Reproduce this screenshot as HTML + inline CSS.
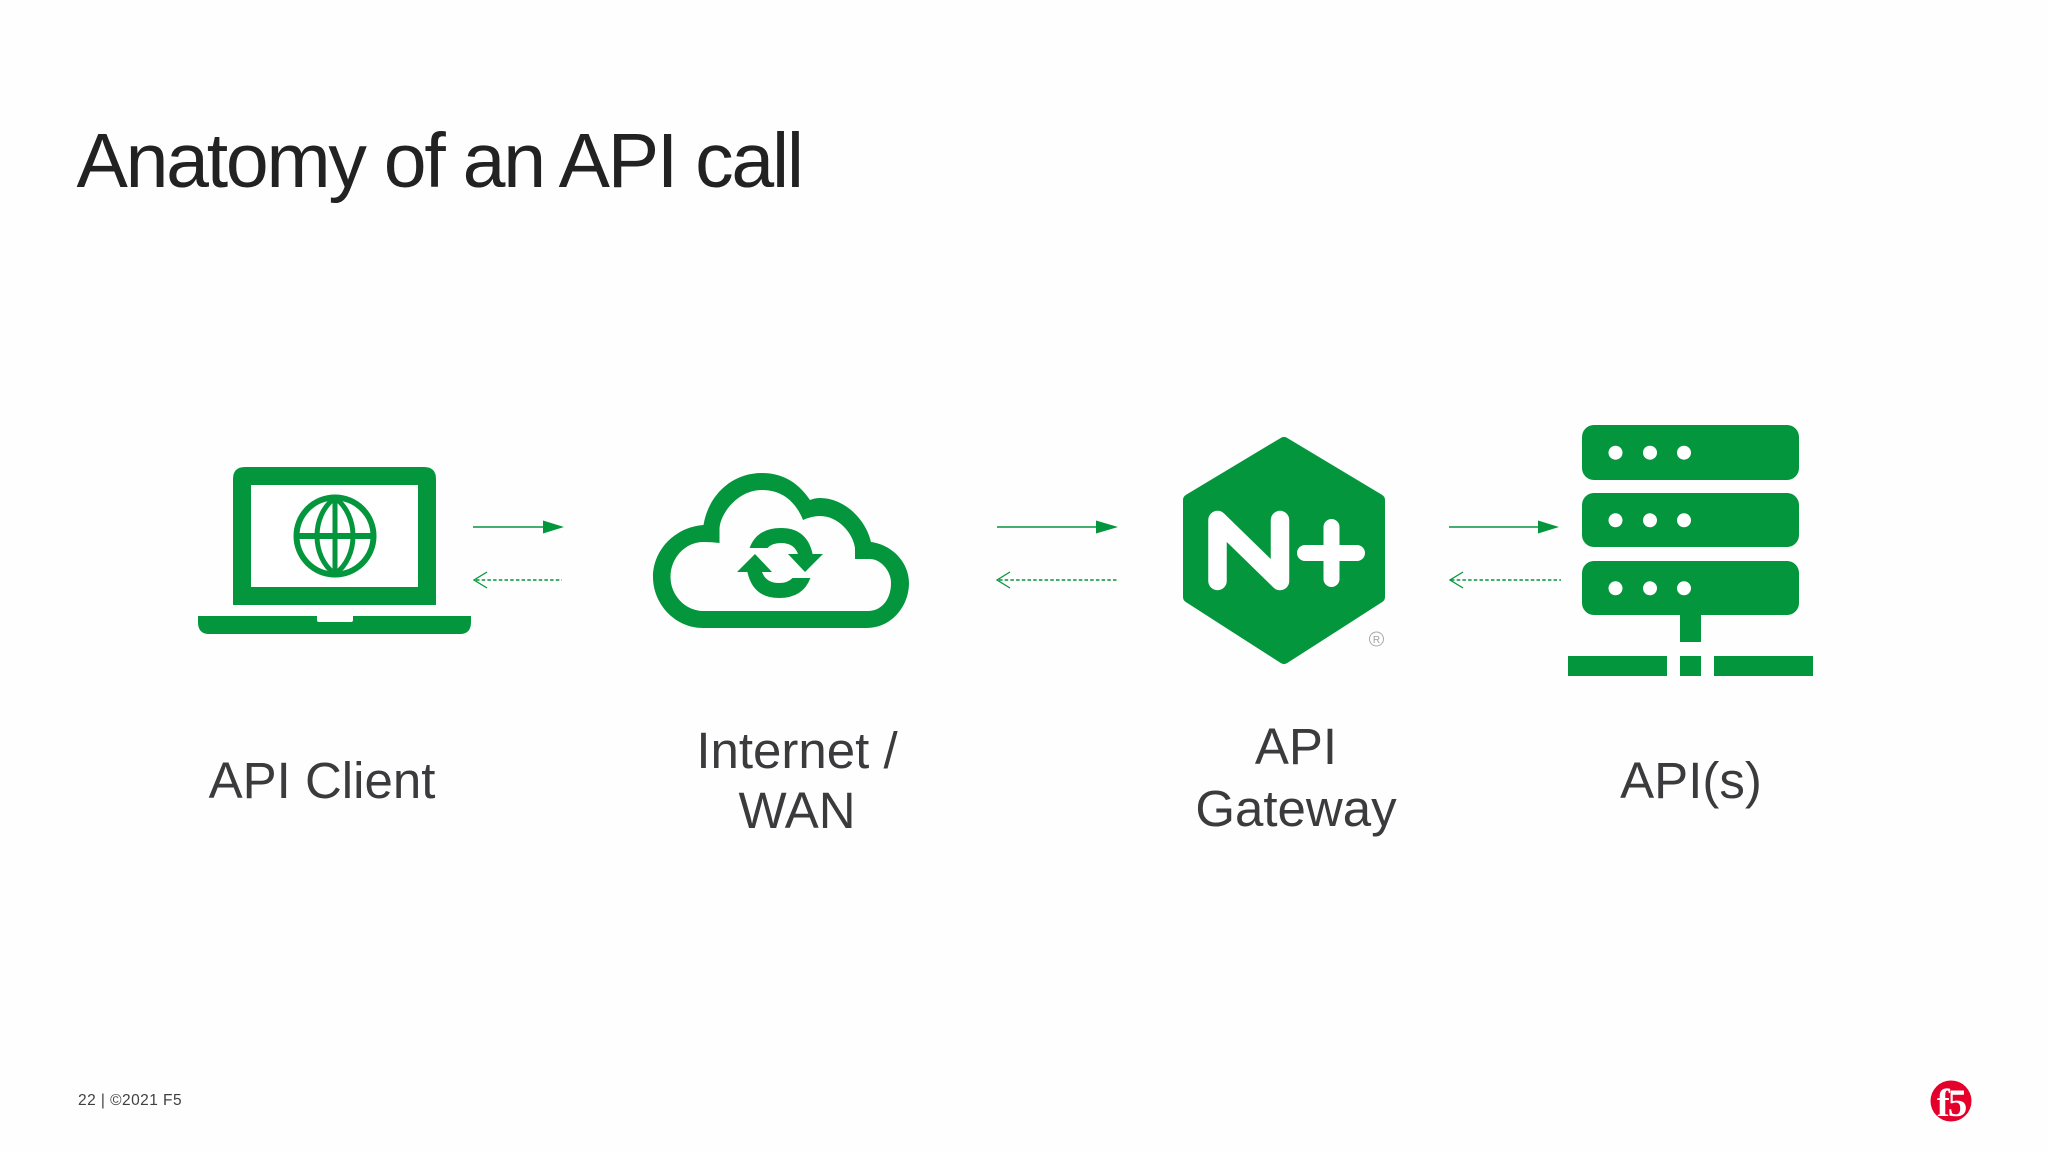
<!DOCTYPE html>
<html>
<head>
<meta charset="utf-8">
<style>
html,body{margin:0;padding:0;background:#fff;width:2048px;height:1152px;overflow:hidden}
svg{display:block}
text{font-family:"Liberation Sans",Arial,sans-serif}
.l{font-size:51px;fill:#3b3b3d;text-anchor:middle}
</style>
</head>
<body>
<svg width="2048" height="1152" viewBox="0 0 2048 1152" xmlns="http://www.w3.org/2000/svg">
<rect width="2048" height="1152" fill="#fefefe"/>
<text x="76.5" y="187" font-size="77" fill="#222222" letter-spacing="-2.25">Anatomy of an API call</text>

<!-- laptop -->
<path d="M233,605 V479 Q233,467 245,467 H424 Q436,467 436,479 V605 Z" fill="#03963c"/>
<rect x="251" y="485" width="167" height="102" fill="#fff"/>
<path d="M198,616 H471 V622 Q471,634 460,634 H209 Q198,634 198,622 Z" fill="#03963c"/>
<path d="M317,616 H353 V620 Q353,622 351,622 H319 Q317,622 317,620 Z" fill="#fff"/>
<g fill="none" stroke="#03963c">
<circle cx="335" cy="536" r="38.5" stroke-width="6"/>
<path d="M335,498 C311,515 311,557 335,574 C359,557 359,515 335,498 Z" stroke-width="5"/>
<line x1="335" y1="498" x2="335" y2="574" stroke-width="5"/>
<line x1="296" y1="536" x2="374" y2="536" stroke-width="6"/>
</g>

<!-- cloud -->
<path fill="#03963c" fill-rule="evenodd" d="M703,628 H866 C892,628 909,606 909,583 C909,563 893,545 871,542 C866,520 845,498 820,498 Q815,498 810,500 C800,485 785,473 762,473 C730,473 708,497 703.5,525 C675,527 653,550 653,577 C653,604 675,628 703,628 Z
M703.5,611 H868 C881,611 891,600 891,583 C891,570 880,559 870,559 H855 V548 C853,533 838,516 820,516 Q812,516 803,520 C797,505 785,490 762,490 C737,490 719,515 719.5,530 V543 Q712,542 703.5,542 C685,542 670.5,558 670.5,577 C670.5,595 685,611 703.5,611 Z"/>
<g fill="#03963c">
<g>
<path d="M749.6,548 Q757,528 781,528 Q807,528 812.6,554 H798 Q794,543 781,543 Q772,543 767.5,548 Z"/>
<polygon points="788,554 823,554 805,572"/>
</g>
<g transform="rotate(180 780 563)">
<path d="M749.6,548 Q757,528 781,528 Q807,528 812.6,554 H798 Q794,543 781,543 Q772,543 767.5,548 Z"/>
<polygon points="788,554 823,554 805,572"/>
</g>
</g>

<!-- hexagon -->
<polygon points="1284,443 1379,500 1379,597 1284,658 1189,597 1189,500" fill="#03963c" stroke="#03963c" stroke-width="12" stroke-linejoin="round"/>
<path d="M1217.5,581 V520 L1280,581 V520" fill="none" stroke="#fff" stroke-width="18.5" stroke-linecap="round" stroke-linejoin="round"/>
<path d="M1305,553 H1357 M1331.5,527 V579" fill="none" stroke="#fff" stroke-width="16" stroke-linecap="round"/>
<circle cx="1376.5" cy="639" r="7" fill="none" stroke="#a8a8a8" stroke-width="1"/>
<text x="1376.5" y="643" font-size="10" fill="#a0a0a0" text-anchor="middle">R</text>

<!-- server -->
<g fill="#03963c">
<rect x="1582" y="425" width="217" height="55" rx="12"/>
<rect x="1582" y="493" width="217" height="54" rx="12"/>
<rect x="1582" y="561" width="217" height="54" rx="12"/>
<rect x="1680" y="615" width="21" height="27"/>
<rect x="1568" y="656" width="99" height="20"/>
<rect x="1680" y="656" width="21" height="20"/>
<rect x="1714" y="656" width="99" height="20"/>
</g>
<g fill="#fff">
<circle cx="1615.5" cy="452.7" r="7"/><circle cx="1650" cy="452.7" r="7"/><circle cx="1684" cy="452.7" r="7"/>
<circle cx="1615.5" cy="520.3" r="7"/><circle cx="1650" cy="520.3" r="7"/><circle cx="1684" cy="520.3" r="7"/>
<circle cx="1615.5" cy="588.3" r="7"/><circle cx="1650" cy="588.3" r="7"/><circle cx="1684" cy="588.3" r="7"/>
</g>

<!-- arrows -->
<g stroke="#03963c" stroke-width="1.6" fill="none">
<line x1="473" y1="527" x2="545" y2="527"/>
<line x1="997" y1="527" x2="1098" y2="527"/>
<line x1="1449" y1="527" x2="1540" y2="527"/>
<line x1="476" y1="580" x2="562" y2="580" stroke-dasharray="3.5 2.2"/>
<line x1="999" y1="580" x2="1118" y2="580" stroke-dasharray="3.5 2.2"/>
<line x1="1451" y1="580" x2="1561" y2="580" stroke-dasharray="3.5 2.2"/>
<polyline points="487,572 474,580 487,588" stroke-width="1.3"/>
<polyline points="1010,572 997,580 1010,588" stroke-width="1.3"/>
<polyline points="1463,572 1450,580 1463,588" stroke-width="1.3"/>
</g>
<g fill="#03963c">
<polygon points="543,520.5 564,527 543,533.5"/>
<polygon points="1096,520.5 1118,527 1096,533.5"/>
<polygon points="1538,520.5 1559,527 1538,533.5"/>
</g>

<!-- labels -->
<text class="l" x="322" y="798">API Client</text>
<text class="l" x="797" y="768">Internet /</text>
<text class="l" x="797" y="828">WAN</text>
<text class="l" x="1296" y="764">API</text>
<text class="l" x="1296" y="826">Gateway</text>
<text class="l" x="1691" y="798">API(s)</text>

<!-- footer -->
<text x="78" y="1105" font-size="15.5" fill="#3f3f3f" letter-spacing="0.45">22 | ©2021 F5</text>
<circle cx="1951" cy="1101" r="20.5" fill="#e4002b"/>
<text x="1951" y="1116" font-size="39" font-weight="bold" fill="#fff" text-anchor="middle" letter-spacing="-2" style='font-family:"Liberation Serif",serif'>f5</text>
</svg>
</body>
</html>
